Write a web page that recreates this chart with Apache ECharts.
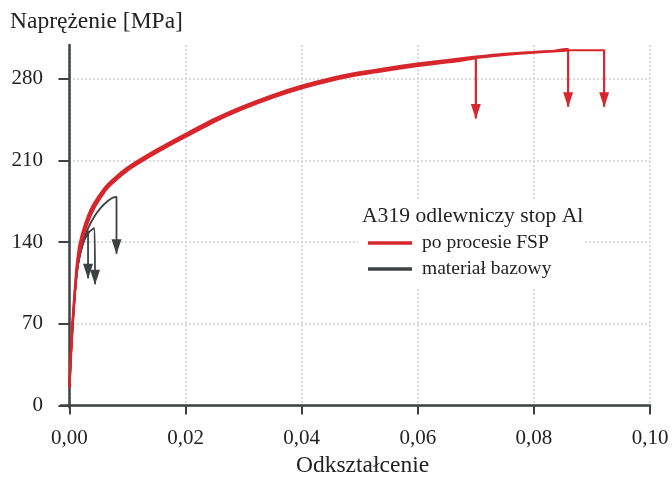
<!DOCTYPE html>
<html lang="pl">
<head>
    <meta charset="UTF-8">
    <title>Naprężenie - odkształcenie</title>
    <script src="https://cdn.jsdelivr.net/npm/echarts@6.0.0/dist/echarts.min.js"></script>
</head>
<body style="margin:0">
<div id="main" style="width: 672px;height:480px;"></div>

<script type="text/javascript">
    // osie
    var xTicks = [0, 0.02, 0.04, 0.06, 0.08, 0.10];
    var yTicks = [0, 70, 140, 210, 280];

    // po procesie FSP (3 probki), ostatni punkt = grot strzalki
    var fspStrainA = [0, 0.00028, 0.00058, 0.00098, 0.00135, 0.0019, 0.0028, 0.0042, 0.0065, 0.0099, 0.0151, 0.0201, 0.0251, 0.0301, 0.0351, 0.0401, 0.0451, 0.0501, 0.0551, 0.0601, 0.065, 0.0685, 0.0700, 0.0700];
    var fspStressA = [15, 43.5, 69.5, 97.5, 117.5, 134.5, 151.5, 168.5, 186, 201, 217, 230.5, 243.5, 254.5, 264, 272, 278.5, 283.5, 287.5, 291, 294, 296.5, 298, 246];
    var fspStrainB = [0, 0.00024, 0.00052, 0.00092, 0.00125, 0.0017, 0.0026, 0.0040, 0.0063, 0.0097, 0.0149, 0.0199, 0.0249, 0.0299, 0.0349, 0.0399, 0.0449, 0.0499, 0.0549, 0.0599, 0.065, 0.070, 0.075, 0.080, 0.0835, 0.0855, 0.0859, 0.0859];
    var fspStressB = [17, 46.5, 72.5, 100.5, 120.5, 137.5, 154.5, 171.5, 188, 203, 219, 232.5, 245.5, 256.5, 266, 274, 280.5, 285.5, 289.5, 293, 296, 299, 301.5, 303, 304, 305.5, 305.5, 256];
    var fspStrainC = [0, 0.00026, 0.00055, 0.00095, 0.0013, 0.0018, 0.0027, 0.0041, 0.0064, 0.0098, 0.015, 0.020, 0.025, 0.030, 0.035, 0.040, 0.045, 0.050, 0.055, 0.060, 0.065, 0.070, 0.075, 0.080, 0.085, 0.0865, 0.0921, 0.0921];
    var fspStressC = [16, 45, 71, 99, 119, 136, 153, 170, 187, 202, 218, 231.5, 244.5, 255.5, 265, 273, 279.5, 284.5, 288.5, 292, 295, 298, 300.5, 302.5, 304, 304.5, 304.5, 256];

    // material bazowy (3 probki)
    var baseStrainA = [0, 0.00026, 0.00055, 0.00095, 0.0013, 0.0018, 0.0025, 0.0032, 0.0032];
    var baseStressA = [16, 45, 70, 97, 115, 129, 142, 150, 109];
    var baseStrainB = [0, 0.00026, 0.00055, 0.00095, 0.0013, 0.0018, 0.0025, 0.0033, 0.0039, 0.0043, 0.0044];
    var baseStressB = [16, 45, 70, 97, 115, 129, 141, 148, 151, 152, 104];
    var baseStrainC = [0, 0.00026, 0.00055, 0.00095, 0.0013, 0.0018, 0.0025, 0.0033, 0.0043, 0.0053, 0.0063, 0.0072, 0.0081, 0.0081];
    var baseStressC = [16, 45, 70, 97, 116, 130, 143, 153, 162, 169, 174, 177.5, 179, 130];

    var fspColor = '#d7262c';
    var baseColor = '#3c4141';
    var axisColor = '#3d4242';
    var font = 'Liberation Serif';

    var makeData = function (strain, stress) {
        var res = [];
        for (let i = 0; i < strain.length; i++) {
            var item = {value: [strain[i], stress[i]]};
            if (i === strain.length - 1) {
                item.symbol = 'triangle';
                item.symbolSize = [10, 15];
                item.symbolRotate = 180;
                item.symbolOffset = [0, -7];
            }
            res.push(item);
        }
        return res;
    };

    var makeSeries = function (name, color, width, strain, stress) {
        return {
            name: name,
            type: 'line',
            data: makeData(strain, stress),
            symbol: 'none',
            showSymbol: true,
            smooth: 0.2,
            lineStyle: {color: color, width: width},
            itemStyle: {color: color},
            emphasis: {disabled: true},
            z: 3
        };
    };

    var myChart = echarts.init(document.getElementById('main'));
    var option = {
        animation: false,
        backgroundColor: '#fff',
        textStyle: {fontFamily: font},
        title: [
            {
                text: 'Naprężenie [MPa]',
                left: 10, top: 9, padding: 0,
                textStyle: {fontFamily: font, fontSize: 23.5, fontWeight: 'normal', color: '#222', lineHeight: 26}
            },
            {
                text: 'Odkształcenie',
                left: 296, top: 453, padding: 0,
                textStyle: {fontFamily: font, fontSize: 23.5, fontWeight: 'normal', color: '#222', lineHeight: 26}
            },
            {
                text: 'A319 odlewniczy stop Al',
                left: 358, top: 200, padding: [4, 8, 2, 4],
                backgroundColor: '#fff',
                textStyle: {fontFamily: font, fontSize: 21.6, fontWeight: 'normal', color: '#222', lineHeight: 24}
            }
        ],
        legend: {
            data: ['po procesie FSP', 'materiał bazowy'],
            orient: 'vertical',
            left: 358, top: 231,
            padding: [2, 34, 8, 10],
            backgroundColor: '#fff',
            icon: 'rect',
            itemWidth: 44,
            itemHeight: 3.5,
            itemGap: 6,
            textStyle: {fontFamily: font, fontSize: 19.5, color: '#222', padding: [0, 0, 0, 5]}
        },
        grid: {left: 61, right: 22, top: 45, bottom: 72.5, containLabel: false},
        xAxis: {
            type: 'value',
            min: -0.00146, max: 0.10,
            axisLine: {show: true, lineStyle: {color: axisColor, width: 2.5}},
            axisTick: {show: true, customValues: xTicks, length: 9, lineStyle: {color: axisColor, width: 2}},
            axisLabel: {
                customValues: xTicks, margin: 20,
                fontFamily: font, fontSize: 21, color: '#222',
                formatter: function (v) { return v.toFixed(2).replace('.', ','); }
            },
            splitLine: {show: true, lineStyle: {color: '#cfcfcf', width: 1.5, type: [2, 2]}}
        },
        yAxis: {
            type: 'value',
            min: -1.7, max: 309,
            axisLine: {show: true, lineStyle: {color: axisColor, width: 2.5}},
            axisTick: {show: true, customValues: yTicks, length: 11, lineStyle: {color: axisColor, width: 2}},
            axisLabel: {customValues: yTicks, margin: 18, fontFamily: font, fontSize: 21, color: '#222'},
            splitLine: {show: true, lineStyle: {color: '#cfcfcf', width: 1.5, type: [2, 2]}}
        },
        series: [
            makeSeries('materiał bazowy', baseColor, 1.8, baseStrainA, baseStressA),
            makeSeries('materiał bazowy', baseColor, 1.8, baseStrainB, baseStressB),
            makeSeries('materiał bazowy', baseColor, 1.8, baseStrainC, baseStressC),
            makeSeries('po procesie FSP', fspColor, 2.2, fspStrainA, fspStressA),
            makeSeries('po procesie FSP', fspColor, 2.2, fspStrainB, fspStressB),
            makeSeries('po procesie FSP', fspColor, 2.2, fspStrainC, fspStressC)
        ]
    };

    myChart.setOption(option);
</script>
</body>
</html>
